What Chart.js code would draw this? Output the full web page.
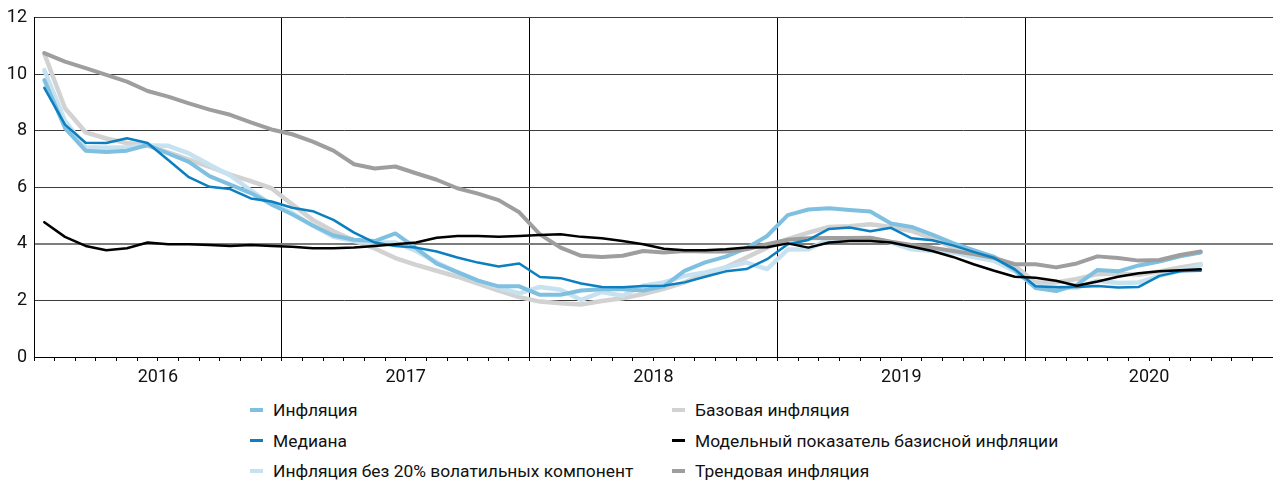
<!DOCTYPE html>
<html>
<head>
<meta charset="utf-8">
<script src="https://cdn.jsdelivr.net/npm/chart.js@4.4.1/dist/chart.umd.min.js"></script>
<style>
  body { margin: 0; background: #fff; font-family: Roboto, sans-serif; }
  #wrap { position: absolute; left: 0; top: 0; width: 1273px; height: 395px; }
  .leg { position: absolute; font-size: 17.4px; color: #111; line-height: 20px; white-space: nowrap; }
  .leg i { position: absolute; left: -23px; top: 8px; width: 13px; height: 4px; }
</style>
</head>
<body>
<div id="wrap"><canvas id="chart"></canvas></div>

<div class="leg" style="left:273px; top:400px"><i style="background:#7fbfe0"></i>Инфляция</div>
<div class="leg" style="left:273px; top:431px"><i style="background:#0b7fbf; height:3px"></i>Медиана</div>
<div class="leg" style="left:273px; top:461px"><i style="background:#c6e2f1"></i>Инфляция без 20% волатильных компонент</div>
<div class="leg" style="left:695px; top:400px"><i style="background:#d2d2d2"></i>Базовая инфляция</div>
<div class="leg" style="left:695px; top:431px"><i style="background:#000; height:3px"></i>Модельный показатель базисной инфляции</div>
<div class="leg" style="left:695px; top:461px"><i style="background:#9e9e9e"></i>Трендовая инфляция</div>

<script>
const years = ["2016", "2017", "2018", "2019", "2020"];

// Jan 2016 .. Sep 2020, % y/y
const inflation = [
  9.8, 8.1, 7.3, 7.25, 7.3, 7.5, 7.2, 6.9, 6.4, 6.1, 5.8, 5.4,
  5.05, 4.65, 4.3, 4.15, 4.1, 4.37, 3.85, 3.3, 3.0, 2.7, 2.5, 2.5,
  2.2, 2.2, 2.35, 2.4, 2.4, 2.35, 2.5, 3.05, 3.35, 3.55, 3.85, 4.28,
  5.02, 5.22, 5.26, 5.2, 5.15, 4.72, 4.6, 4.33, 4.03, 3.78, 3.54, 3.08,
  2.44, 2.33, 2.55, 3.08, 3.03, 3.24, 3.38, 3.56, 3.7
];
const median = [
  9.52, 8.22, 7.58, 7.57, 7.74, 7.57, 6.97, 6.36, 6.02, 5.94, 5.61, 5.5,
  5.28, 5.16, 4.85, 4.4, 4.05, 3.93, 3.87, 3.73, 3.52, 3.34, 3.2, 3.31,
  2.83, 2.79, 2.6, 2.48, 2.47, 2.51, 2.52, 2.64, 2.84, 3.03, 3.11, 3.46,
  3.99, 4.14, 4.53, 4.58, 4.45, 4.57, 4.2, 4.13, 3.95, 3.72, 3.5, 3.1,
  2.5, 2.47, 2.48, 2.51, 2.46, 2.48, 2.87, 3.03, 3.05
];
const exVolatile = [
  10.15, 8.35, 7.42, 7.4, 7.42, 7.48, 7.47, 7.2, 6.8, 6.42, 5.9, 5.4,
  5.1, 4.65, 4.25, 4.1, 4.05, 4.05, 3.75, 3.35, 3.0, 2.7, 2.45, 2.25,
  2.48, 2.38, 2.02, 2.3, 2.17, 2.52, 2.64, 2.87, 2.99, 3.17, 3.34, 3.11,
  3.8, 3.81, 4.17, 4.2, 4.2, 4.05, 3.81, 3.75, 3.7, 3.54, 3.4, 3.03,
  2.52, 2.47, 2.45, 2.7, 2.62, 2.64, 2.87, 3.05, 3.25
];
const baseInfl = [
  10.73, 8.8, 7.95, 7.73, 7.57, 7.48, 7.24, 6.98, 6.73, 6.45, 6.22, 5.97,
  5.4, 4.85, 4.45, 4.12, 3.84, 3.5, 3.26, 3.05, 2.84, 2.6, 2.35, 2.12,
  1.96, 1.9, 1.86, 1.98, 2.08, 2.23, 2.41, 2.64, 2.93, 3.17, 3.52, 3.87,
  4.17, 4.4, 4.6, 4.63, 4.7, 4.6, 4.46, 4.2, 3.87, 3.7, 3.52, 3.23,
  2.64, 2.64, 2.76, 2.93, 2.95, 2.91, 3.03, 3.17, 3.28
];
const modelCore = [
  4.77, 4.25, 3.93, 3.78, 3.85, 4.05, 3.99, 3.99, 3.96, 3.93, 3.96, 3.93,
  3.9, 3.85, 3.85, 3.87, 3.93, 3.99, 4.05, 4.22, 4.28, 4.28, 4.25, 4.28,
  4.32, 4.34, 4.25, 4.2, 4.1, 3.99, 3.83, 3.78, 3.78, 3.81, 3.87, 3.88,
  4.02, 3.87, 4.05, 4.1, 4.1, 4.05, 3.9, 3.75, 3.54, 3.28, 3.05, 2.84,
  2.8, 2.7, 2.52, 2.67, 2.84, 2.96, 3.03, 3.07, 3.1
];
const trend = [
  10.75, 10.45, 10.22, 9.98, 9.74, 9.41, 9.21, 8.97, 8.75, 8.57, 8.3, 8.05,
  7.88, 7.62, 7.3, 6.82, 6.67, 6.74, 6.5, 6.27, 5.97, 5.78, 5.55, 5.12,
  4.34, 3.87, 3.58, 3.54, 3.58, 3.75, 3.7, 3.75, 3.73, 3.73, 3.81, 3.99,
  4.15, 4.2, 4.21, 4.21, 4.22, 4.08, 3.96, 3.87, 3.75, 3.64, 3.5, 3.28,
  3.28, 3.17, 3.31, 3.56, 3.5, 3.41, 3.43, 3.61, 3.73
];

// one category per month, 5 years
const labels = [];
years.forEach(y => { for (let m = 1; m <= 12; m++) labels.push(y + "-" + m); });

Chart.defaults.font.family = "Roboto";
Chart.defaults.color = "#111";

const line = (label, data, color, width, order) => ({
  label, data, borderColor: color, backgroundColor: color,
  borderWidth: width, pointRadius: 0, tension: 0, order,
  borderJoinStyle: "round", borderCapStyle: "round"
});

new Chart(document.getElementById("chart"), {
  type: "line",
  data: {
    labels,
    datasets: [
      line("Базовая инфляция", baseInfl, "#d2d2d2", 4.5, 6),
      line("Инфляция без 20% волатильных компонент", exVolatile, "#c6e2f1", 4.5, 5),
      line("Инфляция", inflation, "#7fbfe0", 4, 4),
      line("Трендовая инфляция", trend, "#9e9e9e", 4, 3),
      line("Медиана", median, "#0b7fbf", 2.5, 2),
      line("Модельный показатель базисной инфляции", modelCore, "#000", 2.5, 1)
    ]
  },
  options: {
    responsive: true,
    maintainAspectRatio: false,
    animation: false,
    layout: { padding: { top: 6, right: 0, left: 0, bottom: 0 } },
    plugins: { legend: { display: false }, tooltip: { enabled: false } },
    scales: {
      x: {
        offset: true,
        grid: {
          offset: true,
          color: ctx => (ctx.index % 12 === 0 ? "#000" : "rgba(0,0,0,0)"),
          tickColor: "#000",
          tickLength: 4,
          lineWidth: 1
        },
        border: { color: "#000", width: 1 },
        ticks: {
          autoSkip: false, maxRotation: 0, minRotation: 0,
          labelOffset: -10.33, padding: 6,
          font: { size: 18 }, color: "#111",
          callback: (v, i) => (i % 12 === 6 ? labels[i].slice(0, 4) : "")
        },
        afterFit: s => { s.height = 38; }
      },
      y: {
        min: 0, max: 12,
        grid: {
          drawTicks: false,
          color: ctx => (ctx.tick && ctx.tick.value === 4 ? "#7d7d7d" : "#3c3c3c"),
          lineWidth: ctx => (ctx.tick && ctx.tick.value === 4 ? 2 : 1)
        },
        border: { color: "#000", width: 1 },
        ticks: { stepSize: 2, padding: 7, font: { size: 18 }, color: "#111" },
        afterFit: s => { s.width = 34; }
      }
    }
  }
});
</script>
</body>
</html>
